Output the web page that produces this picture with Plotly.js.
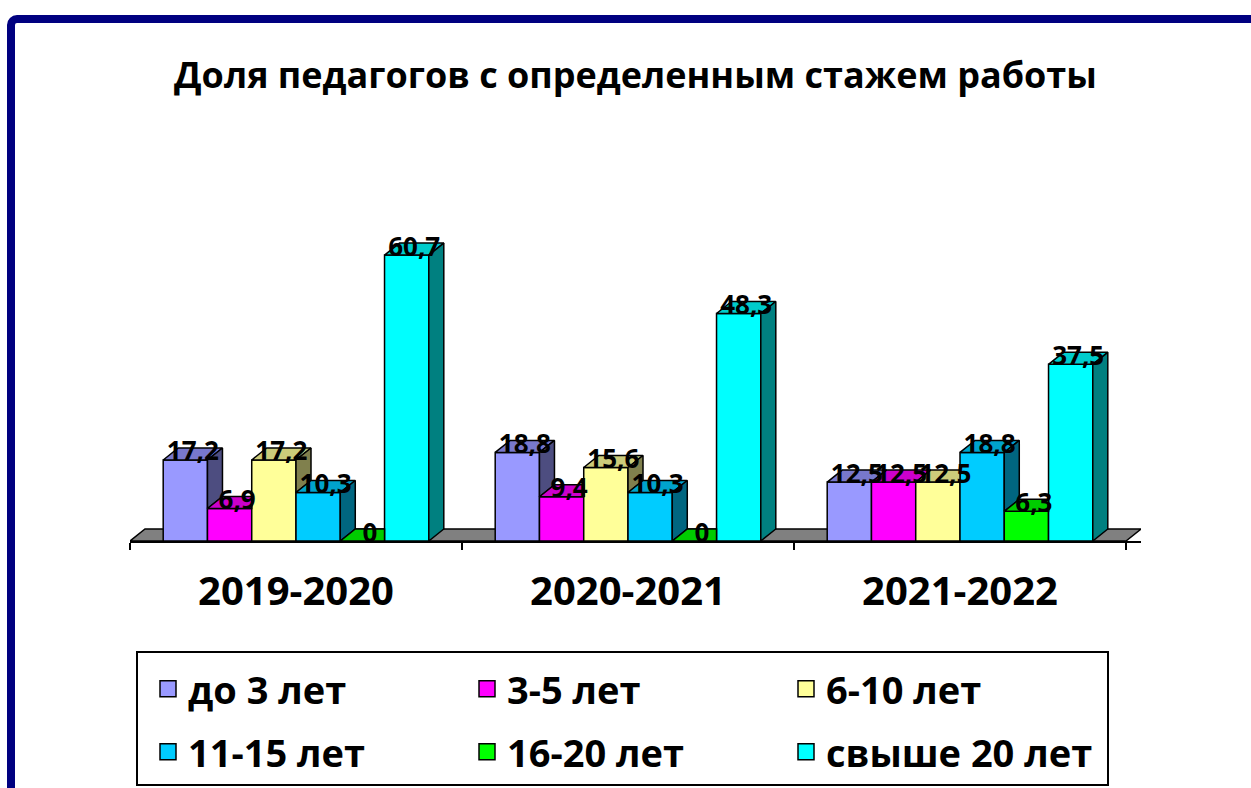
<!DOCTYPE html>
<html>
<head>
<meta charset="utf-8">
<script src="https://cdn.plot.ly/plotly-3.0.1.min.js"></script>
<style>
  html, body { margin: 0; padding: 0; background: #ffffff; }
  #wrap { position: relative; width: 1251px; height: 788px; overflow: hidden; }
  #chart { position: absolute; left: 0; top: 0; width: 1251px; height: 788px; }
  #frame { position: absolute; left: 7px; top: 15px; width: 1400px; height: 1000px;
           border: 8px solid #000080; border-radius: 10px; pointer-events: none; box-sizing: border-box; }
</style>
</head>
<body>
<div id="wrap">
  <div id="chart"></div>
  <div id="frame"></div>
</div>
<script>
// ---- data ----
const categories = ['2019-2020', '2020-2021', '2021-2022'];
const seriesNames = ['до 3 лет', '3-5 лет', '6-10 лет', '11-15 лет', '16-20 лет', 'свыше 20 лет'];
const upTo3 = [17.2, 18.8, 12.5];
const y3to5 = [6.9, 9.4, 12.5];
const y6to10 = [17.2, 15.6, 12.5];
const y11to15 = [10.3, 10.3, 18.8];
const y16to20 = [0, 0, 6.3];
const over20 = [60.7, 48.3, 37.5];
const seriesValues = [upTo3, y3to5, y6to10, y11to15, y16to20, over20];

// ---- style ----
const frontColors = ['#9999FF', '#FF00FF', '#FFFF99', '#00CCFF', '#00FF00', '#00FFFF'];
const topColors   = ['#7878CC', '#CC00CC', '#CCCC7A', '#00A3CC', '#00CC00', '#00CCCC'];
const sideColors  = ['#4D4D80', '#800080', '#80804D', '#006680', '#008000', '#008080'];

const W = 1251, H = 788;
const mL = 130, mR = 110, mT = 150, mB = 247;
const plotW = W - mL - mR, plotH = H - mT - mB;
const yMax = 83;
const pxPerX = 332;                 // pixels per category unit
const depthPx = 15, depthPy = 12;   // 3D depth in pixels
const dx = depthPx / pxPerX;
const dy = depthPy / (plotH / yMax);
const xRange = [-0.5, 2.5 + dx];
const bargap = 0.2;
const nS = seriesValues.length;
const bw = (1 - bargap) / nS;

const FONT = 'Open Sans, DejaVu Sans, sans-serif';
const fmt = v => String(v).replace('.', ',');

const traces = [];
// front faces: real grouped bars
seriesValues.forEach((vals, i) => {
  traces.push({
    type: 'bar', x: [0, 1, 2], y: vals, name: seriesNames[i],
    marker: { color: frontColors[i], line: { color: '#000000', width: 1.5 } },
    showlegend: false, hoverinfo: 'y+name'
  });
});

// 3D top and side faces, derived from the values
function barX0(g, i) { return g - (1 - bargap) / 2 + i * bw; }
seriesValues.forEach((vals, i) => {
  const tx = [], ty = [], sx = [], sy = [];
  vals.forEach((v, g) => {
    const x0 = barX0(g, i), x1 = x0 + bw;
    const vn = (i < nS - 1) ? seriesValues[i + 1][g] : null;
    let pts;
    if (vn === null || vn <= v) {
      pts = [[x0, v], [x1, v], [x1 + dx, v + dy], [x0 + dx, v + dy]];
    } else if (vn >= v + dy) {
      pts = [[x0, v], [x1, v], [x1, v + dy], [x0 + dx, v + dy]];
    } else {
      const t = (vn - v) / dy;
      pts = [[x0, v], [x1, v], [x1, vn], [x1 + t * dx, vn], [x1 + dx, v + dy], [x0 + dx, v + dy]];
    }
    pts.push(pts[0]);
    pts.forEach(p => { tx.push(p[0]); ty.push(p[1]); });
    tx.push(null); ty.push(null);
    const base = vn === null ? 0 : vn;
    if (v > base) {
      const sp = [[x1, base], [x1 + dx, base + dy], [x1 + dx, v + dy], [x1, v], [x1, base]];
      sp.forEach(p => { sx.push(p[0]); sy.push(p[1]); });
      sx.push(null); sy.push(null);
    }
  });
  traces.push({
    type: 'scatter', mode: 'lines', x: tx, y: ty, fill: 'toself', fillcolor: topColors[i],
    line: { color: '#000000', width: 1.5 }, showlegend: false, hoverinfo: 'skip'
  });
  traces.push({
    type: 'scatter', mode: 'lines', x: sx.length ? sx : [null], y: sy.length ? sy : [null],
    fill: 'toself', fillcolor: sideColors[i],
    line: { color: '#000000', width: 1.5 }, showlegend: false, hoverinfo: 'skip'
  });
});

// data labels centred on the top face
seriesValues.forEach((vals, i) => {
  traces.push({
    type: 'scatter', mode: 'text',
    x: vals.map((v, g) => barX0(g, i) + bw / 2 + dx / 2),
    y: vals.map(v => v + dy / 2),
    text: vals.map(fmt), textposition: 'middle center',
    textfont: { family: FONT, size: 26, color: '#000000', weight: 'bold' },
    cliponaxis: false, showlegend: false, hoverinfo: 'skip'
  });
});

// legend entries: one legend per entry, 3 columns x 2 rows
const legendIds = ['legend', 'legend2', 'legend3', 'legend4', 'legend5', 'legend6'];
seriesNames.forEach((n, i) => {
  traces.push({
    type: 'scatter', mode: 'markers', x: [null], y: [null], name: n,
    legend: legendIds[i],
    marker: { symbol: 'square', size: 16, color: frontColors[i], line: { color: '#000000', width: 1.5 } },
    hoverinfo: 'skip'
  });
});

const px2x = p => (p - mL) / plotW;
const py2y = p => (H - mB - p) / plotH;

const colX = [148, 467, 786];
const rowY = [689, 752];
function legendAt(k) {
  return {
    orientation: 'h',
    font: { family: FONT, size: 38, color: '#000000', weight: 'bold' },
    bgcolor: 'rgba(0,0,0,0)', borderwidth: 0,
    xref: 'container', yref: 'container',
    x: colX[k % 3] / W, xanchor: 'left',
    y: 1 - rowY[Math.floor(k / 3)] / H, yanchor: 'middle',
    itemclick: false, itemdoubleclick: false
  };
}

const layout = {
  width: W, height: H,
  margin: { l: mL, r: mR, t: mT, b: mB, pad: 0 },
  paper_bgcolor: '#ffffff', plot_bgcolor: 'rgba(0,0,0,0)',
  font: { family: FONT, color: '#000000', weight: 'bold' },
  title: {
    text: 'Доля педагогов с определенным стажем работы',
    font: { family: FONT, size: 36, color: '#000000', weight: 'bold' },
    x: 0.5, xref: 'paper', xanchor: 'center',
    y: 1 - 75 / H, yref: 'container', yanchor: 'middle'
  },
  barmode: 'group', bargap: bargap, bargroupgap: 0,
  xaxis: {
    type: 'linear', range: xRange, fixedrange: true,
    tickmode: 'array', tickvals: [0, 1, 2], ticktext: categories, ticks: '',
    tickfont: { family: FONT, size: 40, color: '#000000', weight: 'bold' },
    ticklabelstandoff: 14,
    showline: true, linecolor: '#000000', linewidth: 1.5,
    showgrid: false, zeroline: false,
    minor: { tickmode: 'array', tickvals: [-0.5, 0.5, 1.5, 2.5], ticks: 'outside', ticklen: 7,
             tickcolor: '#000000', tickwidth: 1.5, showgrid: false }
  },
  yaxis: { range: [0, yMax], visible: false, fixedrange: true, showgrid: false, zeroline: false },
  shapes: [
    { // floor
      type: 'path', xref: 'x', yref: 'y', layer: 'below',
      path: `M ${xRange[0]} 0 L 2.5 0 L ${2.5 + dx} ${dy} L ${xRange[0] + dx} ${dy} Z`,
      fillcolor: '#808080', line: { color: '#000000', width: 1.5 }
    },
    { // legend box
      type: 'rect', xref: 'paper', yref: 'paper', layer: 'below',
      x0: px2x(137), x1: px2x(1108), y0: py2y(785), y1: py2y(652),
      fillcolor: 'rgba(0,0,0,0)', line: { color: '#000000', width: 2 }
    }
  ],
  showlegend: true
};
legendIds.forEach((id, k) => { layout[id] = legendAt(k); });

Plotly.newPlot('chart', traces, layout, { staticPlot: true, displayModeBar: false });
</script>
</body>
</html>
